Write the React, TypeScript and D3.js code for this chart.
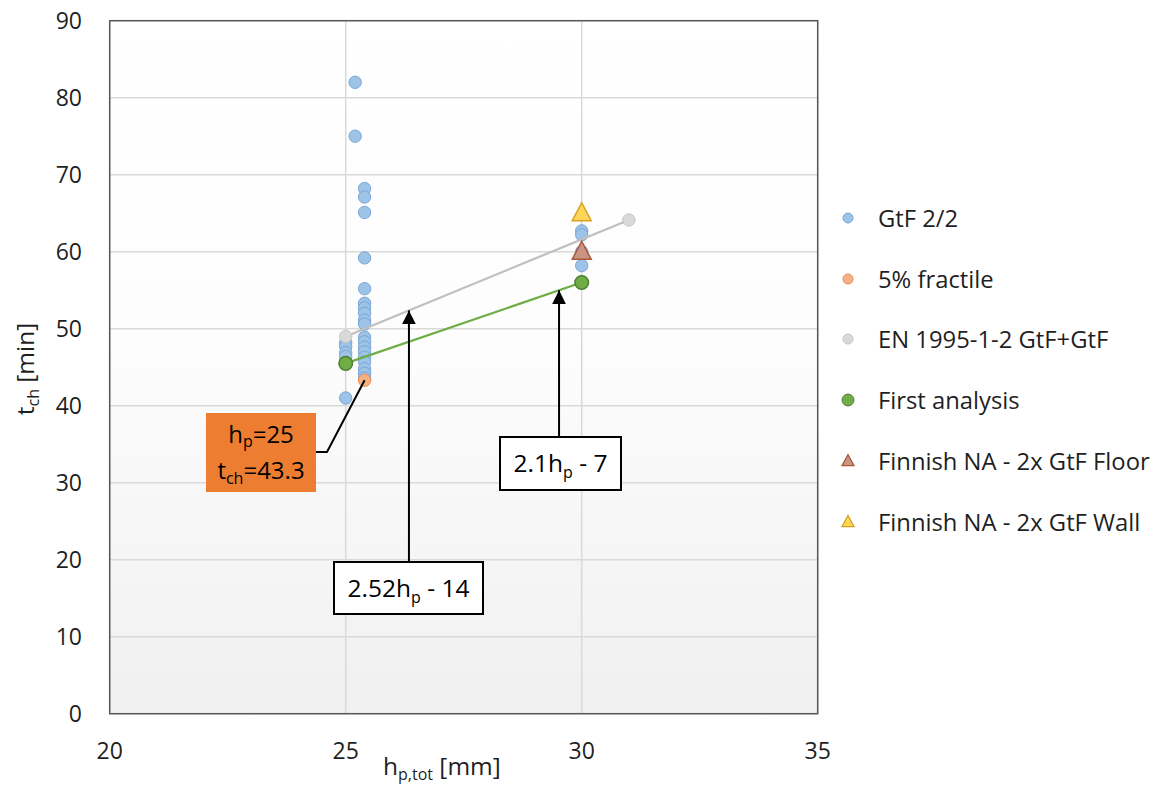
import React from 'react';
import * as d3 from 'd3';

// ---------- data ----------
const xTicks = [20, 25, 30, 35];
const yTicks = [0, 10, 20, 30, 40, 50, 60, 70, 80, 90];

const gtfX = [25.2, 25.2, 25.4, 25.4, 25.4, 25.4, 25.4, 25.4, 25.4, 25.4, 25.4, 25.4, 25.4, 25.4, 25.4, 25.4, 25.4, 25.4, 25.4, 25.4, 25.4, 25, 25, 25, 25, 25, 30, 30, 30, 30];
const gtfY = [82, 75, 68.2, 67.1, 65.1, 59.2, 55.2, 53.3, 52.7, 52, 51.1, 50.6, 48.9, 48.3, 47.6, 47, 46.3, 45.7, 44.8, 44.2, 43.6, 48.2, 47.7, 46.9, 46.4, 41, 62.7, 62.2, 60, 58.2];

const fractileX = [25.4];
const fractileY = [43.3];

const enX = [25, 31];
const enY = [49, 64.12];

const firstX = [25, 30];
const firstY = [45.5, 56];

const floorX = [30];
const floorY = [60];

const wallX = [30];
const wallY = [65];

const legendLabels = ['GtF 2/2', '5% fractile', 'EN 1995-1-2 GtF+GtF', 'First analysis', 'Finnish NA - 2x GtF Floor', 'Finnish NA - 2x GtF Wall'];

// annotation anchors (data x where arrows touch the lines)
const enArrowX = 26.34;
const firstArrowX = 29.52;

// ---------- layout ----------
const W = 1157;
const H = 787;
const FONT = '"Open Sans", sans-serif';
const TXT = '#1f1f1f';

const x = d3.scaleLinear().domain([20, 35]).range([109.7, 817.7]);
const y = d3.scaleLinear().domain([0, 90]).range([713.7, 20.7]);

const colors = {
  gtf: { fill: '#9dc3e6', stroke: '#7aa7d8' },
  fractile: { fill: '#f4b183', stroke: '#e98b55' },
  en: { fill: '#d9d9d9', stroke: '#c4c4c4' },
  first: { fill: '#70ad47', stroke: '#4e7f30' },
  floor: { fill: '#c99483', stroke: '#a9583a' },
  wall: { fill: '#ffd659', stroke: '#d7a21c' },
};

const tri = (cx: number, cy: number, w: number, h: number) => {
  const top = cy - h * 0.58;
  const bot = cy + h * 0.42;
  return `M${cx},${top}L${cx + w / 2},${bot}L${cx - w / 2},${bot}Z`;
};

const linePath = (xs: number[], ys: number[]) =>
  d3.line<number>().x((_, i) => x(xs[i])).y((_, i) => y(ys[i]))(xs) || '';

export default function App() {
  const [x0, x1] = x.range();
  const [y0, y1] = y.range();
  const enAt = (v: number) => enY[0] + ((enY[1] - enY[0]) / (enX[1] - enX[0])) * (v - enX[0]);
  const firstAt = (v: number) => firstY[0] + ((firstY[1] - firstY[0]) / (firstX[1] - firstX[0])) * (v - firstX[0]);

  const legendRows = [
    { kind: 'circle', c: colors.gtf, r: 5 },
    { kind: 'circle', c: colors.fractile, r: 5 },
    { kind: 'circle', c: colors.en, r: 5 },
    { kind: 'circle', c: colors.first, r: 6 },
    { kind: 'tri', c: colors.floor },
    { kind: 'tri', c: colors.wall },
  ];
  const legendY = [218, 279, 339, 400, 461, 522];

  const box1 = { x: 334, y: 562, w: 149, h: 52 };
  const box2 = { x: 500, y: 437, w: 121, h: 53 };
  const box3 = { x: 206, y: 413, w: 110, h: 79 };

  return (
    <svg width={W} height={H} style={{ position: 'absolute', left: 0, top: 0 }} fontFamily={FONT}>
      <defs>
        <linearGradient id="bg" x1="0" y1="0" x2="0" y2="1">
          <stop offset="0" stopColor="#ffffff" />
          <stop offset="0.45" stopColor="#fdfdfd" />
          <stop offset="1" stopColor="#f0f0f0" />
        </linearGradient>
        <marker id="arrow" markerUnits="userSpaceOnUse" markerWidth="16" markerHeight="16" refX="14" refY="7" orient="auto">
          <path d="M0,0L14,7L0,14Z" fill="#000" />
        </marker>
      </defs>
      <rect x={0} y={0} width={W} height={H} fill="#fff" />
      <rect x={x0} y={y1} width={x1 - x0} height={y0 - y1} fill="url(#bg)" />
      {/* gridlines */}
      {yTicks.map((t) => (
        <line key={'gy' + t} x1={x0} x2={x1} y1={y(t)} y2={y(t)} stroke="#d9d9d9" strokeWidth={1.5} />
      ))}
      {xTicks.map((t) => (
        <line key={'gx' + t} x1={x(t)} x2={x(t)} y1={y0} y2={y1} stroke="#d9d9d9" strokeWidth={1.5} />
      ))}
      <rect x={x0} y={y1} width={x1 - x0} height={y0 - y1} fill="none" stroke="#595959" strokeWidth={1.5} />

      {/* tick labels */}
      {yTicks.map((t) => (
        <text key={'ty' + t} x={82} y={y(t)} dy="0.36em" textAnchor="end" fontSize={23} fill={TXT}>{t}</text>
      ))}
      {xTicks.map((t) => (
        <text key={'tx' + t} x={x(t)} y={751} dy="0.36em" textAnchor="middle" fontSize={23} fill={TXT}>{t}</text>
      ))}

      {/* axis titles */}
      <text x={383} y={775} fontSize={24.5} fill={TXT}>
        h<tspan fontSize={16} dy={5}>p,tot</tspan><tspan dy={-5}> [mm]</tspan>
      </text>
      <text transform="translate(34,369) rotate(-90)" textAnchor="middle" fontSize={24.5} fill={TXT}>
        t<tspan fontSize={16} dy={5}>ch</tspan><tspan dy={-5}> [min]</tspan>
      </text>

      {/* series: GtF 2/2 */}
      {gtfX.map((v, i) => (
        <circle key={'g' + i} cx={x(v)} cy={y(gtfY[i])} r={6.2} fill={colors.gtf.fill} stroke={colors.gtf.stroke} strokeWidth={1} />
      ))}
      {/* 5% fractile */}
      {fractileX.map((v, i) => (
        <circle key={'f' + i} cx={x(v)} cy={y(fractileY[i])} r={6.2} fill={colors.fractile.fill} stroke={colors.fractile.stroke} strokeWidth={1} />
      ))}
      {/* EN line */}
      <path d={linePath(enX, enY)} fill="none" stroke="#bfbfbf" strokeWidth={2.2} />
      {enX.map((v, i) => (
        <circle key={'e' + i} cx={x(v)} cy={y(enY[i])} r={6.2} fill={colors.en.fill} stroke={colors.en.stroke} strokeWidth={1} />
      ))}
      {/* First analysis */}
      <path d={linePath(firstX, firstY)} fill="none" stroke="#70ad47" strokeWidth={2.2} />
      {firstX.map((v, i) => (
        <circle key={'fa' + i} cx={x(v)} cy={y(firstY[i])} r={6.8} fill={colors.first.fill} stroke={colors.first.stroke} strokeWidth={1.5} />
      ))}
      {/* Finnish NA floor / wall */}
      {floorX.map((v, i) => (
        <path key={'fl' + i} d={tri(x(v), y(floorY[i]), 19, 18)} fill={colors.floor.fill} stroke={colors.floor.stroke} strokeWidth={1.5} />
      ))}
      {wallX.map((v, i) => (
        <path key={'w' + i} d={tri(x(v), y(wallY[i]), 19, 18)} fill={colors.wall.fill} stroke={colors.wall.stroke} strokeWidth={1.5} />
      ))}

      {/* annotation: orange box with connector */}
      <polyline
        points={`${box3.x + box3.w},${box3.y + 39} ${box3.x + box3.w + 11},${box3.y + 39} ${x(fractileX[0])},${y(fractileY[0])}`}
        fill="none" stroke="#000" strokeWidth={2}
      />
      <rect x={box3.x} y={box3.y} width={box3.w} height={box3.h} fill="#ed7d31" />
      <text x={box3.x + box3.w / 2} y={443} textAnchor="middle" fontSize={24} fill="#000">
        h<tspan fontSize={16} dy={4}>p</tspan><tspan dy={-4}>=25</tspan>
      </text>
      <text x={box3.x + box3.w / 2} y={479} textAnchor="middle" fontSize={24} fill="#000">
        t<tspan fontSize={16} dy={5}>ch</tspan><tspan dy={-5}>=43.3</tspan>
      </text>

      {/* annotation: 2.52hp - 14 */}
      <line x1={x(enArrowX)} x2={x(enArrowX)} y1={box1.y} y2={y(enAt(enArrowX))} stroke="#000" strokeWidth={2} markerEnd="url(#arrow)" />
      <rect x={box1.x} y={box1.y} width={box1.w} height={box1.h} fill="#fff" stroke="#000" strokeWidth={2} />
      <text x={box1.x + box1.w / 2} y={box1.y + 35} textAnchor="middle" fontSize={24.5} fill="#000">
        2.52h<tspan fontSize={16} dy={6}>p</tspan><tspan dy={-6}> - 14</tspan>
      </text>

      {/* annotation: 2.1hp - 7 */}
      <line x1={x(firstArrowX)} x2={x(firstArrowX)} y1={box2.y} y2={y(firstAt(firstArrowX))} stroke="#000" strokeWidth={2} markerEnd="url(#arrow)" />
      <rect x={box2.x} y={box2.y} width={box2.w} height={box2.h} fill="#fff" stroke="#000" strokeWidth={2} />
      <text x={box2.x + box2.w / 2} y={box2.y + 35} textAnchor="middle" fontSize={24.5} fill="#000">
        2.1h<tspan fontSize={16} dy={6}>p</tspan><tspan dy={-6}> - 7</tspan>
      </text>

      {/* legend */}
      {legendRows.map((row, i) => (
        <g key={'l' + i}>
          {row.kind === 'circle' ? (
            <circle cx={848} cy={legendY[i]} r={row.r} fill={row.c.fill} stroke={row.c.stroke} strokeWidth={1} />
          ) : (
            <path d={tri(848, legendY[i], 12, 11)} fill={row.c.fill} stroke={row.c.stroke} strokeWidth={1.2} />
          )}
          <text x={878} y={legendY[i]} dy="0.36em" fontSize={23.8} fill={TXT}>{legendLabels[i]}</text>
        </g>
      ))}
    </svg>
  );
}
